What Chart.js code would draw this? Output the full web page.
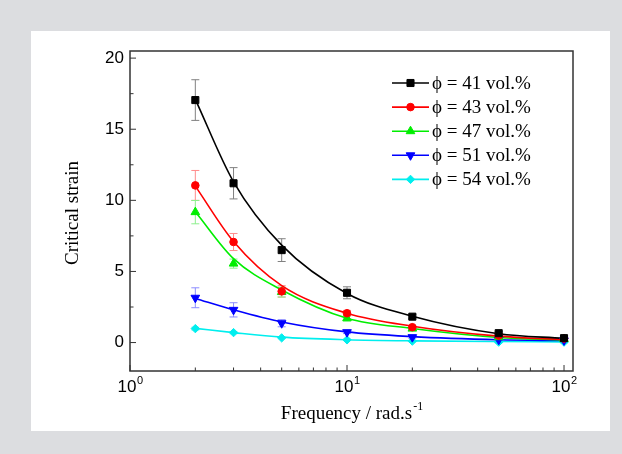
<!DOCTYPE html>
<html>
<head>
<meta charset="utf-8">
<script src="https://cdn.jsdelivr.net/npm/chart.js@4/dist/chart.umd.min.js"></script>
<style>
  html, body { margin: 0; padding: 0; background: #dcdde0; }
  #panel { position: absolute; left: 31px; top: 31px; width: 579px; height: 400px; background: #fff; }
</style>
</head>
<body>
<div id="panel"><canvas id="strainChart"></canvas></div>
<script>
//// Data

// frequency (rad/s)
const freq = [2, 3, 5, 10, 20, 50, 100];

const seriesLabels = ['ϕ = 41 vol.%', 'ϕ = 43 vol.%', 'ϕ = 47 vol.%', 'ϕ = 51 vol.%', 'ϕ = 54 vol.%'];

// measured critical strain
const strain41 = [17.05, 11.2, 6.5, 3.5, 1.82, 0.66, 0.31];
const strain43 = [11.05, 7.07, 3.6, 2.06, 1.08, 0.49, 0.28];
const strain47 = [9.17, 5.55, 3.55, 1.71, 0.98, 0.38, 0.25];
const strain51 = [3.15, 2.3, 1.36, 0.73, 0.38, 0.19, 0.15];
const strain54 = [0.98, 0.7, 0.33, 0.19, 0.1, 0.03, 0.03];

// error bars (+/-)
const err41 = [1.43, 1.1, 0.8, 0.42, 0.15, 0.1, 0.1];
const err43 = [1.05, 0.6, 0.4, 0.2, 0.12, 0.1, 0.05];
const err47 = [0.82, 0.32, 0.35, 0.2, 0.1, 0.08, 0.05];
const err51 = [0.7, 0.5, 0.25, 0.1, 0.08, 0.05, 0.05];
const err54 = [0.1, 0.08, 0.05, 0.05, 0.05, 0.05, 0.05];

// fitted curves, read at the same frequencies
const fit41 = [17.1, 11.3, 6.85, 3.45, 1.85, 0.62, 0.3];
const fit43 = [11.0, 7.1, 4.0, 2.06, 1.15, 0.45, 0.2];
const fit47 = [9.2, 5.9, 3.7, 1.71, 0.99, 0.36, 0.18];
const fit51 = [3.1, 2.3, 1.45, 0.75, 0.42, 0.2, 0.14];
const fit54 = [1.0, 0.7, 0.38, 0.2, 0.12, 0.07, 0.05];

const yTicks = [0, 5, 10, 15, 20];
const yMinorTicks = [2.5, 7.5, 12.5, 17.5];
const xTicks = [1, 10, 100];
const xTickLabels = ['0', '1', '2'];
const xMinorTicks = [2, 3, 4, 5, 6, 7, 8, 9, 20, 30, 40, 50, 60, 70, 80, 90];

const colors = ['#000000', '#ff0000', '#00ee00', '#0000ff', '#00eeee'];
const errColors = ['#808080', '#ff8c8c', '#8cf08c', '#8c8cff', '#8cf0f0'];
const pointStyles = ['rect', 'circle', 'triangle', 'triangle', 'rectRot'];
const pointRotations = [0, 0, 0, 180, 0];
const pointRadii = [5, 3.8, 5, 5, 4.2];

const strains = [strain41, strain43, strain47, strain51, strain54];
const errs = [err41, err43, err47, err51, err54];
const fits = [fit41, fit43, fit47, fit51, fit54];

const toPoints = arr => freq.map((f, i) => ({ x: f, y: arr[i] }));

//// Chart setup
const datasets = [];
fits.forEach((fit, i) => {
    datasets.push({
        label: 'fit ' + seriesLabels[i],
        data: toPoints(fit),
        showLine: true,
        borderColor: colors[i],
        borderWidth: 1.6,
        pointRadius: 0,
        cubicInterpolationMode: 'monotone',
        order: 2
    });
});
strains.forEach((s, i) => {
    datasets.push({
        label: seriesLabels[i],
        data: toPoints(s),
        showLine: false,
        backgroundColor: colors[i],
        borderColor: colors[i],
        borderWidth: 1,
        pointStyle: pointStyles[i],
        rotation: pointRotations[i],
        pointRadius: pointRadii[i],
        errors: errs[i],
        errColor: errColors[i],
        order: 1
    });
});

const errorBars = {
    id: 'errorBars',
    beforeDatasetsDraw(chart) {
        const ctx = chart.ctx;
        const ys = chart.scales.y;
        chart.data.datasets.forEach((ds, di) => {
            if (!ds.errors) return;
            const meta = chart.getDatasetMeta(di);
            ctx.save();
            ctx.strokeStyle = ds.errColor;
            ctx.lineWidth = 1;
            meta.data.forEach((pt, i) => {
                const v = ds.data[i].y, e = ds.errors[i];
                const top = ys.getPixelForValue(v + e);
                const bot = ys.getPixelForValue(v - e);
                ctx.beginPath();
                ctx.moveTo(pt.x, top); ctx.lineTo(pt.x, bot);
                ctx.moveTo(pt.x - 4, top); ctx.lineTo(pt.x + 4, top);
                ctx.moveTo(pt.x - 4, bot); ctx.lineTo(pt.x + 4, bot);
                ctx.stroke();
            });
            ctx.restore();
        });
    }
};

const frameAndLabels = {
    id: 'frameAndLabels',
    afterDraw(chart) {
        const ctx = chart.ctx;
        const a = chart.chartArea;
        const xs = chart.scales.x, ys = chart.scales.y;
        ctx.save();
        // frame
        ctx.strokeStyle = '#333';
        ctx.lineWidth = 1.5;
        ctx.strokeRect(a.left, a.top, a.right - a.left, a.bottom - a.top);
        // inward ticks
        ctx.lineWidth = 1;
        ctx.beginPath();
        yTicks.forEach(v => { const y = ys.getPixelForValue(v); ctx.moveTo(a.left, y); ctx.lineTo(a.left + 6, y); });
        yMinorTicks.forEach(v => { const y = ys.getPixelForValue(v); ctx.moveTo(a.left, y); ctx.lineTo(a.left + 3.5, y); });
        xTicks.forEach(v => { const x = xs.getPixelForValue(v); ctx.moveTo(x, a.bottom); ctx.lineTo(x, a.bottom - 6); });
        xMinorTicks.forEach(v => { const x = xs.getPixelForValue(v); ctx.moveTo(x, a.bottom); ctx.lineTo(x, a.bottom - 3.5); });
        ctx.stroke();

        // x tick labels with superscript
        ctx.fillStyle = '#000';
        ctx.textBaseline = 'alphabetic';
        xTicks.forEach((v, i) => {
            const x = xs.getPixelForValue(v);
            ctx.font = '17px "Liberation Sans", Arial, sans-serif';
            const wBase = ctx.measureText('10').width;
            ctx.font = '11px "Liberation Sans", Arial, sans-serif';
            const wExp = ctx.measureText(xTickLabels[i]).width;
            const x0 = x - (wBase + wExp) / 2;
            ctx.font = '17px "Liberation Sans", Arial, sans-serif';
            ctx.textAlign = 'left';
            ctx.fillText('10', x0, a.bottom + 21);
            ctx.font = '11px "Liberation Sans", Arial, sans-serif';
            ctx.fillText(xTickLabels[i], x0 + wBase + 0.5, a.bottom + 13);
        });

        // x title
        ctx.font = '19px "Liberation Serif", "Times New Roman", serif';
        const t1 = 'Frequency / rad.s';
        const w1 = ctx.measureText(t1).width;
        ctx.font = '12px "Liberation Serif", "Times New Roman", serif';
        const w2 = ctx.measureText('-1').width;
        const cx = (a.left + a.right) / 2;
        const tx = cx - (w1 + w2) / 2;
        ctx.font = '19px "Liberation Serif", "Times New Roman", serif';
        ctx.fillText(t1, tx, a.bottom + 48);
        ctx.font = '12px "Liberation Serif", "Times New Roman", serif';
        ctx.fillText('-1', tx + w1 + 1, a.bottom + 39);

        // y title
        ctx.save();
        ctx.translate(42, (a.top + a.bottom) / 2 + 2);
        ctx.rotate(-Math.PI / 2);
        ctx.textAlign = 'center';
        ctx.textBaseline = 'middle';
        ctx.font = '19px "Liberation Serif", "Times New Roman", serif';
        ctx.fillText('Critical strain', 0, 0);
        ctx.restore();

        // legend
        const lx = 361, ly = 52, step = 24.1;
        chart.data.datasets.forEach(ds => {
            if (!ds.errors) return;
            const i = seriesLabels.indexOf(ds.label);
            const y = ly + i * step;
            ctx.strokeStyle = colors[i];
            ctx.lineWidth = 1.6;
            ctx.beginPath();
            ctx.moveTo(lx, y); ctx.lineTo(lx + 37, y);
            ctx.stroke();
            ctx.fillStyle = colors[i];
            ctx.strokeStyle = colors[i];
            ctx.lineWidth = 1;
            Chart.helpers.drawPoint(ctx, {
                pointStyle: pointStyles[i], radius: pointRadii[i], rotation: pointRotations[i], borderWidth: 1
            }, lx + 18.5, y);
            ctx.fillStyle = '#000';
            ctx.textAlign = 'left';
            ctx.textBaseline = 'middle';
            ctx.font = '19px "Liberation Serif", "Times New Roman", serif';
            ctx.fillText(ds.label, lx + 40, y + 1);
        });
        ctx.restore();
    }
};

window.onload = () => {
    const canvas = document.getElementById('strainChart');
    new Chart(canvas, {
        type: 'scatter',
        data: { datasets: datasets },
        options: {
            responsive: true,
            maintainAspectRatio: false,
            animation: false,
            layout: { padding: { left: 0, top: 20, right: 37, bottom: 0 } },
            plugins: { legend: { display: false }, tooltip: { enabled: false } },
            scales: {
                x: {
                    type: 'logarithmic',
                    min: 1,
                    max: 110,
                    grid: { display: false, drawTicks: false },
                    border: { display: false },
                    ticks: { display: false },
                    afterFit: s => { s.height = 60; }
                },
                y: {
                    type: 'linear',
                    min: -2,
                    max: 20.5,
                    grid: { display: false, drawTicks: false },
                    border: { display: false },
                    afterBuildTicks: s => { s.ticks = yTicks.map(v => ({ value: v })); },
                    ticks: {
                        color: '#000',
                        padding: 6,
                        font: { family: '"Liberation Sans", Arial, sans-serif', size: 17 }
                    },
                    afterFit: s => { s.width = 99; }
                }
            }
        },
        plugins: [errorBars, frameAndLabels]
    });
};
</script>
</body>
</html>
